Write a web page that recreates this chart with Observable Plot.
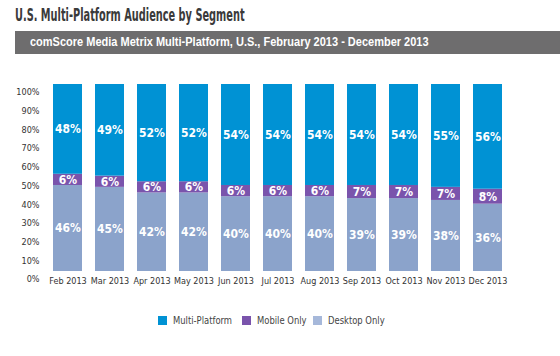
<!DOCTYPE html>
<html>
<head>
<meta charset="utf-8">
<script src="https://cdn.jsdelivr.net/npm/d3@7"></script>
<script src="https://cdn.jsdelivr.net/npm/@observablehq/plot@0.6"></script>
<style>
  body { margin: 0; background: #fff; width: 560px; height: 356px; overflow: hidden; position: relative; }
  #title { position: absolute; left: 15px; top: 5px; font-family: "DejaVu Sans Condensed", sans-serif; font-stretch: condensed; font-weight: bold; font-size: 17px; color: #3a3a3a; transform: scaleX(0.64); transform-origin: left top; white-space: nowrap; }
  #banner { position: absolute; left: 15px; top: 31px; width: 545px; height: 23px; background: #6e6d6e; }
  #banner span { position: absolute; left: 15px; top: 4px; font-family: "Liberation Sans", Arial, sans-serif; font-weight: bold; font-size: 12.5px; color: #fff; transform: scaleX(0.88); transform-origin: left top; white-space: nowrap; }
  #chart { position: absolute; left: 0; top: 60px; }
  #legend { position: absolute; left: 0; top: 314px; width: 560px; height: 16px; font-family: "DejaVu Sans Condensed", sans-serif; font-stretch: condensed; font-size: 11px; color: #444; }
  .li { position: absolute; top: 0; display: flex; align-items: center; }
  .sw { width: 9px; height: 9px; margin-right: 6px; }
  .li span { display: inline-block; transform: scaleX(0.85); transform-origin: left center; white-space: nowrap; }
</style>
</head>
<body>
<div id="title">U.S. Multi-Platform Audience by Segment</div>
<div id="banner"><span>comScore Media Metrix Multi-Platform, U.S., February 2013 - December 2013</span></div>
<div id="chart"></div>
<div id="legend"></div>
<script>
const months = ["Feb 2013","Mar 2013","Apr 2013","May 2013","Jun 2013","Jul 2013","Aug 2013","Sep 2013","Oct 2013","Nov 2013","Dec 2013"];
const desktopOnly = [46,45,42,42,40,40,40,39,39,38,36];
const mobileOnly  = [6,6,6,6,6,6,6,7,7,7,8];
const multiPlatform = [48,49,52,52,54,54,54,54,54,55,56];
const segments = ["Desktop Only","Mobile Only","Multi-Platform"];
const segColors = ["#8ba3cb","#7a54ac","#0092d4"];
const yTicks = [0,10,20,30,40,50,60,70,80,90,100];

const series = {"Desktop Only": desktopOnly, "Mobile Only": mobileOnly, "Multi-Platform": multiPlatform};
const rows = [];
for (const s of segments) months.forEach((m, i) => rows.push({month: m, segment: s, value: series[s][i]}));

const cf = "'DejaVu Sans Condensed', sans-serif";
const plot = Plot.plot({
  width: 560,
  height: 240,
  marginLeft: 34,
  marginRight: 40,
  marginTop: 24,
  marginBottom: 29,
  style: {fontFamily: cf, background: "transparent"},
  x: {domain: months, padding: 0.32, label: null},
  y: {domain: [0, 100], label: null},
  color: {domain: segments, range: segColors},
  marks: [
    Plot.barY(rows, Plot.stackY({order: segments, x: "month", y: "value", z: "segment", fill: "segment"})),
    Plot.text(rows, Plot.stackY({order: segments, x: "month", y: "value", z: "segment", text: d => d.value + "%", fill: "white", fontSize: 12, fontWeight: "bold"})),
    Plot.axisX({tickSize: 0, tickPadding: 6, fontSize: 9, fill: "#333"}),
    Plot.axisY({ticks: yTicks, tickFormat: d => d + "%", tickSize: 0, tickPadding: 0, dx: 5, fontSize: 9, fill: "#333", dy: 8})
  ]
});
document.getElementById("chart").appendChild(plot);

const legendX = [158, 242, 313];
const legendOrder = ["Multi-Platform","Mobile Only","Desktop Only"];
const legendColors = ["#0092d4","#7a54ac","#a6b8da"];
const lg = document.getElementById("legend");
legendOrder.forEach((s, i) => {
  const d = document.createElement("div");
  d.className = "li";
  d.style.left = legendX[i] + "px";
  d.innerHTML = `<div class="sw" style="background:${legendColors[i]}"></div><span>${s}</span>`;
  lg.appendChild(d);
});
</script>
</body>
</html>
